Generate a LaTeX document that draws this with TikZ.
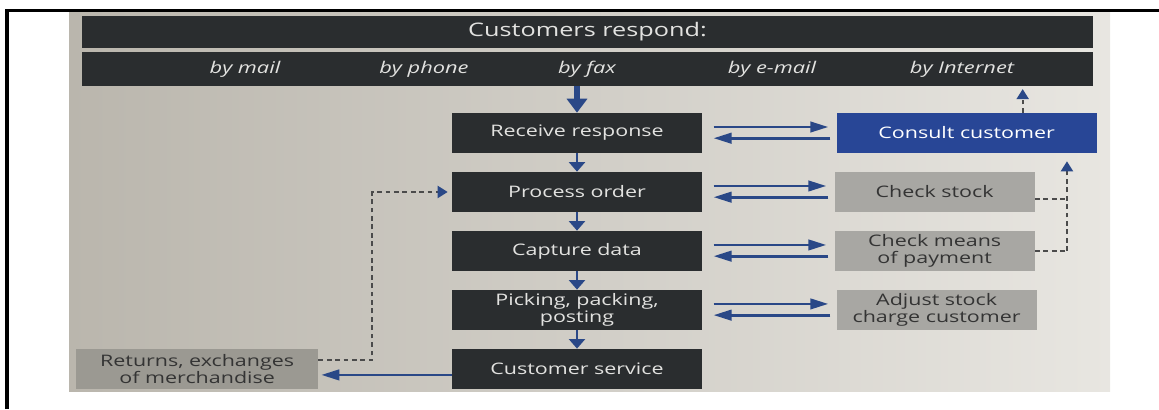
\documentclass[tikz,border=0pt]{standalone}
\usepackage{fontspec}
\setmainfont{Open Sans}[FakeStretch=1.35]
\usetikzlibrary{positioning,arrows.meta}

\definecolor{paperL}{RGB}{186,182,173}
\definecolor{paperR}{RGB}{232,230,225}
\definecolor{boxdark}{RGB}{42,45,47}
\definecolor{boxtext}{RGB}{226,226,224}
\definecolor{boxgrey}{RGB}{168,167,163}
\definecolor{greytext}{RGB}{52,52,52}
\definecolor{returnsgrey}{RGB}{155,153,146}
\definecolor{boxblue}{RGB}{40,70,150}
\definecolor{flowblue}{RGB}{42,72,135}
\definecolor{dashgrey}{RGB}{75,75,75}

\begin{document}
\begin{tikzpicture}[x=0.025cm, y=-0.025cm,
	bar/.style={fill=boxdark, text=boxtext, minimum width=25.275cm, inner sep=0pt},
	channel/.style={text=boxtext, inner sep=0pt, font=\itshape\fontsize{11.5}{13}\selectfont},
	stepbox/.style={fill=boxdark, text=boxtext, minimum width=6.25cm, minimum height=1cm,
		inner sep=0pt, align=center, font=\fontsize{11.3}{12.6}\selectfont},
	sidebox/.style={stepbox, fill=boxgrey, text=greytext, minimum width=5cm},
	bluebox/.style={stepbox, fill=boxblue, text=white, minimum width=6.5cm},
	bigflow/.style={draw=flowblue, line width=0.14cm, -{Triangle[length=0.35cm,width=0.5cm]}},
	flow/.style={draw=flowblue, line width=0.07cm, -{Triangle[length=0.24cm,width=0.4cm]}},
	pair/.style={draw=flowblue, line width=0.07cm, -{Triangle[length=0.45cm,width=0.26cm]}},
	dashline/.style={draw=dashgrey, line width=0.05cm, dash pattern=on 0.12cm off 0.09cm},
	bluetip/.style={-{Triangle[color=flowblue,length=0.25cm,width=0.3cm]}}]

	\useasboundingbox (0,0) rectangle (1159,409);

	% page frame and photo
	\draw[line width=0.075cm] (7,409) -- (7,10) -- (1159,10);
	\shade[left color=paperL, right color=paperR] (69,12) rectangle (1110,391);

	% response channels
	\node[bar, minimum height=0.8cm, font=\fontsize{13.3}{15}\selectfont] (respond) at (587.5,32) {Customers respond:};
	\node[bar, minimum height=0.85cm] (channels) at (587.5,69) {};
	\foreach \x/\way in {245/mail, 424/phone, 587/fax, 772/e-mail, 962/Internet}
		\node[channel] (by-\way) at (\x,69) {by \way};

	% order handling
	\node[stepbox] (receive) at (577,133) {Receive response};
	\node[stepbox] (process) [below=0.46cm of receive] {Process order};
	\node[stepbox] (capture) [below=0.46cm of process] {Capture data};
	\node[stepbox] (picking) [below=0.46cm of capture] {Picking, packing,\\posting};
	\node[stepbox] (service) [below=0.46cm of picking] {Customer service};

	\node[bluebox] (consult) [right=3.35cm of receive] {Consult customer};
	\node[sidebox] (stock) [right=3.3cm of process] {Check stock};
	\node[sidebox] (means) [right=3.3cm of capture] {Check means\\of payment};
	\node[sidebox] (adjust) [right=3.35cm of picking] {Adjust stock\\charge customer};
	\node[sidebox, fill=returnsgrey, minimum width=6.05cm] (returns) [left=3.33cm of service] {Returns, exchanges\\of merchandise};

	\draw[bigflow] (channels.south -| receive) -- (receive);
	\foreach \a/\b in {receive/process, process/capture, capture/picking, picking/service}
		\draw[flow] (\a) -- (\b);

	\foreach \a/\b in {receive/consult, process/stock, capture/means, picking/adjust} {
		\draw[pair, shorten <=0.28cm, shorten >=0.2cm] ([yshift=0.15cm]\a.east) -- ([yshift=0.15cm]\a.east -| \b.west);
		\draw[pair, shorten <=0.15cm, shorten >=0.28cm] ([yshift=-0.13cm]\a.east -| \b.west) -- ([yshift=-0.13cm]\a.east);
	}
	\draw[pair, shorten >=0.07cm] ([yshift=-0.15cm]service.west) -- ([yshift=-0.15cm]service.west -| returns.east);

	% feedback loops
	\draw[dashline, bluetip, shorten >=0.1cm] ([yshift=0.22cm]returns.east) -- ++(54,0) |- (process.west);
	\draw[dashline] (means.east) -- ++(32,0) coordinate (joint);
	\draw[dashline, bluetip, shorten >=0.2cm] (joint) -- (joint |- consult.south);
	\draw[dashline] ([yshift=-0.17cm]stock.east) -- ([yshift=-0.17cm]stock.east -| joint);
	\draw[dashline, bluetip, shorten >=0.07cm] ([xshift=1.4cm]consult.north) -- ([xshift=1.4cm]consult.north |- channels.south);
\end{tikzpicture}
\end{document}
